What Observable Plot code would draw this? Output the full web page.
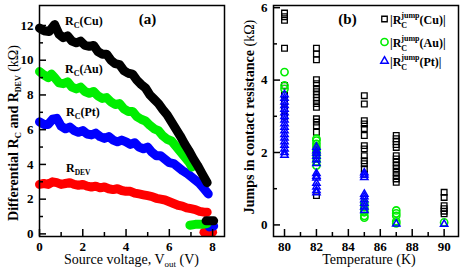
<!DOCTYPE html>
<html><head><meta charset="utf-8">
<script src="https://cdn.jsdelivr.net/npm/d3@7"></script>
<script src="https://cdn.jsdelivr.net/npm/@observablehq/plot@0.6"></script>
<style>
body{margin:0;background:#fff;}
#wrap{display:flex;width:463px;height:271px;overflow:hidden;}
svg, svg text, svg tspan, svg g { font-family: "Liberation Serif", "Times New Roman", serif !important; font-variant: normal !important; font-variant-numeric: normal !important; }
</style></head><body><div id="wrap"></div>
<script>
// ---- Panel (a) data: differential resistance vs source voltage ----
const cuV = [0,0.2,0.45,0.7,0.9,1.1,1.3,1.5,1.7,1.9,2.1,2.3,2.5,2.7,2.9,3.1,3.3,3.5,3.7,3.9,4.1,4.3,4.5,4.7,4.9,5.1,5.3,5.5,5.7,5.9,6.1,6.3,6.5,6.7,6.9,7.1,7.3,7.5,7.75];
const cuR = [11.85,11.7,11.65,12.05,11.5,11.3,11.4,11.1,11.0,11.1,10.85,10.8,10.85,10.5,10.35,10.35,10.0,9.8,9.75,9.4,9.25,9.2,8.85,8.6,8.4,8.0,7.75,7.5,7.15,6.85,6.45,6.05,5.65,5.2,4.8,4.35,3.95,3.5,2.95];
const auV = [0,0.2,0.4,0.55,0.7,0.9,1.1,1.3,1.5,1.7,1.9,2.1,2.3,2.5,2.7,2.9,3.1,3.3,3.5,3.7,3.9,4.1,4.3,4.5,4.7,4.9,5.1,5.3,5.5,5.7,5.9,6.1,6.3,6.5,6.7,6.9,7.05];
const auR = [9.35,9.15,9.0,9.2,9.0,8.7,8.65,8.75,8.45,8.35,8.45,8.2,8.1,8.2,7.95,7.8,7.85,7.6,7.45,7.5,7.2,7.05,7.05,6.75,6.6,6.5,6.25,6.05,5.95,5.65,5.45,5.35,5.05,4.75,4.45,4.15,3.85];
const ptV = [0,0.2,0.4,0.6,0.8,1.0,1.2,1.4,1.6,1.8,2.0,2.2,2.4,2.6,2.8,3.0,3.2,3.4,3.6,3.8,4.0,4.2,4.4,4.6,4.8,5.0,5.2,5.4,5.6,5.8,6.0,6.2,6.4,6.6,6.8,7.0,7.2,7.4,7.6,7.8];
const ptR = [6.45,6.3,6.3,6.6,6.65,6.2,6.05,6.15,5.95,5.85,5.95,5.75,5.7,5.8,5.6,5.5,5.6,5.4,5.3,5.4,5.3,5.15,5.25,5.0,4.9,5.0,4.7,4.5,4.5,4.3,4.1,4.05,3.85,3.65,3.5,3.3,3.1,2.9,2.6,2.3];
const devV = [0,0.2,0.4,0.6,0.8,1.0,1.2,1.4,1.6,1.8,2.0,2.2,2.4,2.6,2.8,3.0,3.2,3.4,3.6,3.8,4.0,4.2,4.4,4.6,4.8,5.0,5.2,5.4,5.6,5.8,6.0,6.2,6.4,6.6,6.8,7.0,7.2,7.4,7.6,7.75];
const devR = [2.85,2.9,2.85,3.0,2.95,2.85,2.9,2.95,2.85,2.8,2.85,2.75,2.7,2.75,2.65,2.7,2.6,2.55,2.6,2.5,2.45,2.45,2.35,2.3,2.25,2.2,2.15,2.05,2.0,1.95,1.85,1.75,1.65,1.6,1.5,1.45,1.4,1.3,1.25,1.25];
// low-resistance tails after the switch
const cuLowV = [7.7,8.05];  const cuLowR = [0.75,0.75];
const auLowV = [6.95,7.2,7.5,7.75]; const auLowR = [0.5,0.55,0.55,0.6];
const ptLowV = [7.85,8.05]; const ptLowR = [0.4,0.45];
const devLowV = [7.6,8.0];  const devLowR = [0.1,0.1];

// ---- Panel (b) data: jumps in contact resistance vs temperature ----
const cuJumpT = [80,80,80,80,80,80,80,80,80, 82,82,82,82,82,82,82,82,82,82,82,82,82,82,82,82,82,82, 85,85,85,85,85,85,85,85,85,85,85,85,85, 87,87,87,87,87,87,87,87,87,87,87,87,87,87, 90,90,90,90,90,90];
const cuJumpJ = [5.85,5.75,5.65,4.88,3.85,3.6,3.4,3.2,3.0, 4.88,4.72,4.56,4.01,3.9,3.77,3.68,3.6,3.52,3.44,3.35,3.25,2.93,2.84,2.74,2.56,2.1,0.81, 3.57,3.34,2.88,2.79,2.66,2.47,2.19,2.1,1.91,1.77,1.69,1.55,1.4, 2.47,2.38,2.3,2.22,2.14,1.91,1.82,1.73,1.64,1.55,1.45,1.36,1.27,1.18, 0.9,0.76,0.53,0.45,0.38,0.31];
const auJumpT = [80,80,80, 82,82,82,82,82,82,82,82,82, 85,85,85,85,85,85, 87,87,87,87,87, 90];
const auJumpJ = [4.22,3.85,3.76, 2.38,2.33,2.24,2.15,2.05,1.95,1.85,1.75,1.64, 0.6,0.5,0.42,0.35,0.25,0.2, 0.4,0.32,0.25,0.1,0.04, 0.07];
const ptJumpT = [80,80,80,80,80,80,80,80,80,80,80,80,80,80,80,80,80,80, 82,82,82,82,82,82,82,82,82,82,82,82,82, 85,85,85,85,85,85,85,85,85, 87, 90];
const ptJumpJ = [3.6,3.5,3.4,3.3,3.2,3.1,3.0,2.9,2.8,2.7,2.6,2.5,2.4,2.3,2.2,2.1,2.0,1.93, 2.15,2.05,1.98,1.9,1.8,1.7,1.42,1.35,1.3,1.15,1.05,0.95,0.89, 1.44,1.38,1.31,0.85,0.78,0.7,0.6,0.5,0.4, 0.03, 0.02];

// ---- ticks ----
const aXMajor = [0,2,4,6,8], aXMinor = [1,3,5,7];
const aYMajor = [0,2,4,6,8,10,12], aYMinor = [1,3,5,7,9,11];
const bXMajor = [80,82,84,86,88,90], bXMinor = [81,83,85,87,89];
const bYMajor = [0,2,4,6], bYMinor = [1,3,5];

const zip = (xs, ys) => xs.map((x, i) => ({x, y: ys[i]}));
const FONT = "'Liberation Serif', 'Times New Roman', serif";
const H = 271;
const line = (xs, ys, color) => Plot.line(zip(xs, ys), {x: "x", y: "y", stroke: color, strokeWidth: 9, strokeLinecap: "round", strokeLinejoin: "round"});
const BLACK = "#000", GREEN = "#00ee00", BLUE = "#0000ff", RED = "#ff0000";
const fmt = d3.format("d");

function tickMarks(fw, fh, xMaj, xMin, yMaj, yMin) {
  return [
    Plot.tickX(xMaj, {x: d => d, insetTop: fh - 7, stroke: BLACK, strokeWidth: 1.5}),
    Plot.tickX(xMin, {x: d => d, insetTop: fh - 4, stroke: BLACK, strokeWidth: 1.5}),
    Plot.tickY(yMaj, {y: d => d, insetRight: fw - 7, stroke: BLACK, strokeWidth: 1.5}),
    Plot.tickY(yMin, {y: d => d, insetRight: fw - 4, stroke: BLACK, strokeWidth: 1.5})
  ];
}
// tick labels drawn as Plot text marks anchored to the frame edge
function tickLabels(xMaj, yMaj) {
  const o = {fontSize: 13, fontWeight: "bold", fontFamily: FONT, fill: BLACK};
  return [
    Plot.text(xMaj, {x: d => d, frameAnchor: "bottom", lineAnchor: "top", dy: 5, text: fmt, ...o}),
    Plot.text(yMaj, {y: d => d, frameAnchor: "left", textAnchor: "end", dx: -6, text: fmt, ...o})
  ];
}

const mA = {l: 39, r: 7, t: 5, b: 35}, WA = 231;
const plotA = Plot.plot({
  width: WA, height: H,
  marginLeft: mA.l, marginRight: mA.r, marginTop: mA.t, marginBottom: mA.b,
  x: {domain: [0, 8.55], axis: null},
  y: {domain: [-0.15, 13.15], axis: null},
  style: {fontFamily: FONT, fontSize: "13px", fontWeight: "bold", color: "black", background: "white", overflow: "visible"},
  marks: [
    line(devV, devR, RED), line(devLowV, devLowR, RED),
    line(ptV, ptR, BLUE), line(ptLowV, ptLowR, BLUE),
    line(auV, auR, GREEN), line(auLowV, auLowR, GREEN),
    line(cuV, cuR, BLACK), line(cuLowV, cuLowR, BLACK),
    Plot.frame({stroke: BLACK, strokeWidth: 1.5}),
    ...tickMarks(WA - mA.l - mA.r, H - mA.t - mA.b, aXMajor, aXMinor, aYMajor, aYMinor),
    ...tickLabels(aXMajor, aYMajor)
  ]
});

const mB = {l: 42, r: 5, t: 5, b: 35}, WB = 232;
const plotB = Plot.plot({
  width: WB, height: H,
  marginLeft: mB.l, marginRight: mB.r, marginTop: mB.t, marginBottom: mB.b,
  x: {domain: [79.31, 90.9], axis: null},
  y: {domain: [-0.32, 6.06], axis: null},
  style: {fontFamily: FONT, fontSize: "13px", fontWeight: "bold", color: "black", background: "white", overflow: "visible"},
  marks: [
    Plot.dot(zip(cuJumpT, cuJumpJ), {x: "x", y: "y", symbol: "square", r: 3.2, stroke: BLACK, strokeWidth: 1.3, fill: "none"}),
    Plot.dot(zip(auJumpT, auJumpJ), {x: "x", y: "y", symbol: "circle", r: 3.6, stroke: GREEN, strokeWidth: 1.6, fill: "none"}),
    Plot.dot(zip(ptJumpT, ptJumpJ), {x: "x", y: "y", symbol: "triangle", r: 2.7, stroke: BLUE, strokeWidth: 1.5, fill: "none"}),
    Plot.frame({stroke: BLACK, strokeWidth: 1.5}),
    ...tickMarks(WB - mB.l - mB.r, H - mB.t - mB.b, bXMajor, bXMinor, bYMajor, bYMinor),
    ...tickLabels(bXMajor, bYMajor)
  ]
});

const wrap = document.getElementById("wrap");
wrap.appendChild(plotA);
wrap.appendChild(plotB);

// rich text helper: one <text> with flowing <tspan>s (sub/superscripts via dy)
function rich(svgEl, x, y, pieces, {anchor = "start", rotate = 0} = {}) {
  const t = d3.select(svgEl).append("text")
    .attr("transform", `translate(${x},${y}) rotate(${rotate})`)
    .attr("text-anchor", anchor).attr("fill", "black");
  let off = 0;
  for (const p of pieces) {
    const target = p.dy || 0;
    const s = t.append("tspan")
      .attr("dy", target - off)
      .attr("font-size", p.size || 13)
      .attr("font-weight", p.weight || "bold")
      .text(p.t);
    if (p.hidden) s.attr("fill-opacity", 0);
    off = target;
  }
  return t;
}

// Panel (a) annotations
rich(plotA, 147.5, 24, [{t: "(a)", size: 15}], {anchor: "middle"});
const cLab = (name) => [{t: "R", size: 12}, {t: "C", size: 8, dy: 3}, {t: name, size: 12}];
rich(plotA, 65, 25, cLab("(Cu)"));
rich(plotA, 65, 73, cLab("(Au)"));
rich(plotA, 66, 116, cLab("(Pt)"));
rich(plotA, 66, 172, [{t: "R", size: 12}, {t: "DEV", size: 7.5, dy: 3}]);
rich(plotA, 131.5, 264, [
  {t: "Source voltage, V", size: 14, weight: "normal"},
  {t: "out", size: 9, dy: 3, weight: "normal"},
  {t: " (V)", size: 14, weight: "normal"}
], {anchor: "middle"});
rich(plotA, 18, 133, [
  {t: "Differential R", size: 14},
  {t: "C", size: 9, dy: 3},
  {t: " and R", size: 14},
  {t: "DEV", size: 8, dy: 3},
  {t: " (kΩ)", size: 14, weight: "normal"}
], {anchor: "middle", rotate: -90});

// Panel (b) annotations
rich(plotB, 116.5, 24, [{t: "(b)", size: 15}], {anchor: "middle"});
rich(plotB, 138, 264, [{t: "Temperature (K)", size: 14, weight: "normal"}], {anchor: "middle"});
rich(plotB, 23, 117, [
  {t: "Jumps in contact resistance", size: 14},
  {t: " (kΩ)", size: 14, weight: "normal"}
], {anchor: "middle", rotate: -90});

// legend
const legNames = ["(Cu)|", "(Au)|", "(Pt)|"];
const leg = [
  {y: 19, sym: d3.symbolSquare, size: 30, color: BLACK, sw: 1.3},
  {y: 42, sym: d3.symbolCircle, size: 40, color: GREEN, sw: 1.6},
  {y: 61, sym: d3.symbolTriangle, size: 24, color: BLUE, sw: 1.5}
];
leg.forEach((e, i) => {
  d3.select(plotB).append("path")
    .attr("d", d3.symbol(e.sym, e.size)())
    .attr("transform", `translate(153.5,${e.y})`)
    .attr("fill", "none").attr("stroke", e.color).attr("stroke-width", e.sw);
  rich(plotB, 159, e.y + 5, [
    {t: "|R", size: 12},
    {t: "jump", size: 8, dy: -6},
    {t: legNames[i], size: 12}
  ]);
  rich(plotB, 159, e.y + 5, [
    {t: "|R", size: 12, hidden: true},
    {t: "C", size: 8, dy: 4}
  ]);
});

d3.selectAll("#wrap svg text, #wrap svg tspan").style("font-family", FONT).style("font-variant", "normal");
</script>
</body></html>
